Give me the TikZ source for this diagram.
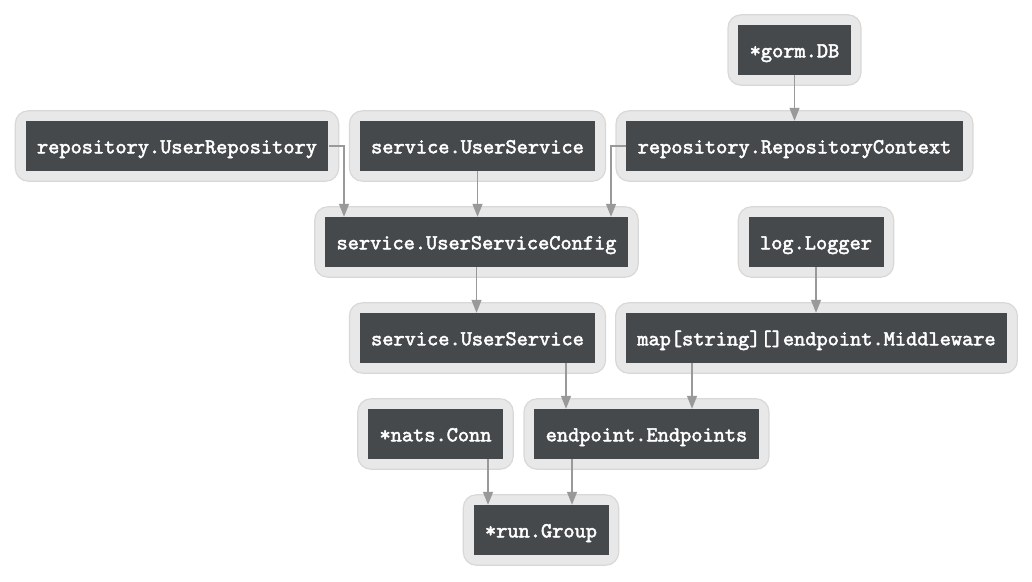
\documentclass[tikz,border=0pt]{standalone}
\usepackage{fontspec}
\newfontfamily\codefont[FakeBold=2.2]{lmmono10-regular.otf}
\usetikzlibrary{fit,backgrounds,arrows.meta}
\definecolor{boxdark}{HTML}{45494C}
\definecolor{boxouter}{HTML}{E8E8E8}
\definecolor{boxborder}{HTML}{D8D8D8}
\definecolor{edgegray}{HTML}{999999}
\tikzset{
  typebox/.style={fill=boxdark, text=white, minimum height=50pt, inner xsep=11.5pt, inner ysep=0pt,
    text height=14.6pt, text depth=0pt,
    font=\codefont\fontsize{21.33}{22}\selectfont},
  outerbox/.style={fill=boxouter, draw=boxborder, line width=1.2pt, rounded corners=13pt, inner sep=10pt},
  edge/.style={draw=edgegray, line width=1.3pt, -{Triangle[length=13pt,width=10pt]}, color=edgegray}
}
\begin{document}
\begin{tikzpicture}[x=1pt,y=-1pt]
\useasboundingbox (0,0) rectangle (1032,581);
\node[typebox] (gorm) at (794.5,50) {*gorm.DB};
\node[typebox] (ur) at (177,146) {repository.UserRepository};
\node[typebox] (svc1) at (477.5,146) {service.UserService};
\node[typebox] (rc) at (794.5,146) {repository.RepositoryContext};
\node[typebox] (cfg) at (476.5,242) {service.UserServiceConfig};
\node[typebox] (log) at (816,242) {log.Logger};
\node[typebox] (svc2) at (477.5,338) {service.UserService};
\node[typebox] (mw) at (816.5,338) {map[string][]endpoint.Middleware};
\node[typebox] (nats) at (435.5,434) {*nats.Conn};
\node[typebox] (endp) at (646.5,434) {endpoint.Endpoints};
\node[typebox] (grp) at (541,530) {*run.Group};
\begin{scope}[on background layer]
\foreach \n in {gorm,ur,svc1,rc,cfg,log,svc2,mw,nats,endp,grp}{
  \node[outerbox, fit=(\n)] (\n-o) {};
}
\end{scope}
\draw[edge] (gorm.south) -- (gorm.south |- rc.north);
\draw[edge] (ur.east) -| ([xshift=-132.5pt]cfg.north);
\draw[edge] (svc1.south) -- (svc1.south |- cfg.north);
\draw[edge] (rc.west) -| ([xshift=134.5pt]cfg.north);
\draw[edge] (cfg.south) -- (cfg.south |- svc2.north);
\draw[edge] (log.south) -- (log.south |- mw.north);
\draw[edge] ([xshift=88.5pt]svc2.south) -- ([xshift=-80.5pt]endp.north);
\draw[edge] ([xshift=-124.5pt]mw.south) -- ([xshift=45.5pt]endp.north);
\draw[edge] ([xshift=52.5pt]nats.south) -- ([xshift=-53pt]grp.north);
\draw[edge] ([xshift=-74.5pt]endp.south) -- ([xshift=31pt]grp.north);
\end{tikzpicture}
\end{document}
